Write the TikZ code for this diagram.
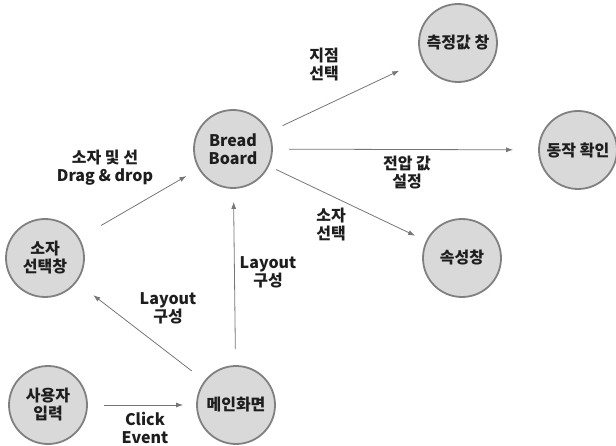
\documentclass[tikz,border=0pt]{standalone}
\usepackage{fontspec}
\setmainfont{Noto Sans CJK KR}
\usetikzlibrary{arrows.meta}

\definecolor{winfill}{RGB}{217,217,217}
\definecolor{winline}{RGB}{128,128,128}
\definecolor{flowline}{RGB}{118,118,118}
\definecolor{txt}{RGB}{30,30,30}

\tikzset{
  win/.style={circle, draw=winline, line width=1.8pt, fill=winfill,
    minimum size=78pt, inner sep=0pt, align=center, text=txt,
    font=\bfseries\fontsize{16}{18}\selectfont},
  flow/.style={draw=flowline, line width=0.8pt, -{Latex[length=7pt,width=5pt]}},
  lbl/.style={align=center, text=txt, inner sep=0pt,
    font=\bfseries\fontsize{16}{18}\selectfont}
}

\begin{document}
\begin{tikzpicture}[x=1pt,y=-1pt]
\useasboundingbox (0,0) rectangle (616,446);
% windows
\node[win] (user)  at (48,405)  {사용자\\입력};
\node[win] (main)  at (236,405) {메인화면};
\node[win] (parts) at (45,258)  {소자\\선택창};
\node[win] (board) at (233,149) {Bread\\Board};
\node[win] (meas)  at (458,43)  {측정값 창};
\node[win] (check) at (578,150) {동작 확인};
\node[win] (prop)  at (462,258) {속성창};
% connectors
\draw[flow, shorten <=16pt, shorten >=13pt] (user) -- (main);
\draw[flow, shorten <=16pt, shorten >=21pt] (main) -- (parts);
\draw[flow, shorten <=16pt, shorten >=13pt] (main) -- (board);
\draw[flow, shorten <=25pt, shorten >=14pt] (parts) -- (board);
\draw[flow, shorten <=15pt, shorten >=25pt] (board) -- (meas);
\draw[flow, shorten <=16pt, shorten >=25pt] (board) -- (check);
\draw[flow, shorten <=8pt, shorten >=12pt] (board) -- (prop);
% labels
\node[lbl] (lclick)  at (145,428) {Click\\Event};
\node[lbl] (llay1)   at (168,308) {Layout\\구성};
\node[lbl] (llay2)   at (268,272) {Layout\\구성};
\node[lbl] (ldrag)   at (105,168) {소자 및 선\\Drag \& drop};
\node[lbl] (lpoint)  at (324,65)  {지점\\선택};
\node[lbl] (lvolt)   at (407,173) {전압 값\\설정};
\node[lbl] (lselect) at (331,225) {소자\\선택};
\end{tikzpicture}
\end{document}
